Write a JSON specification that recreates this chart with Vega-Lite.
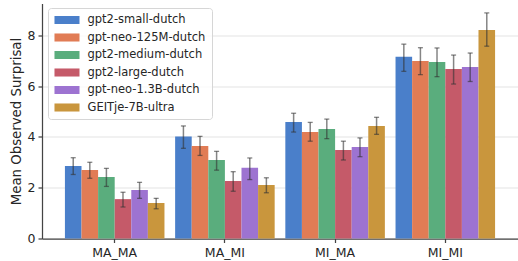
{
  "$schema": "https://vega.github.io/schema/vega-lite/v6.json",
  "width": 476,
  "height": 235,
  "autosize": {"type": "none"},
  "padding": {"left": 42, "top": 3.5, "right": 0, "bottom": 22.5},
  "config": {
    "font": "DejaVu Sans",
    "view": {"stroke": null},
    "axis": {"labelColor": "#262626", "titleColor": "#262626", "domainColor": "#444444", "tickColor": "#444444", "domainWidth": 1.25, "tickWidth": 1.25}
  },
  "data": {"values": [
    {"cond": "MA_MA", "model": "gpt2-small-dutch", "mean": 2.85, "lo": 2.52, "hi": 3.18},
    {"cond": "MA_MA", "model": "gpt-neo-125M-dutch", "mean": 2.70, "lo": 2.37, "hi": 3.00},
    {"cond": "MA_MA", "model": "gpt2-medium-dutch", "mean": 2.42, "lo": 2.05, "hi": 2.76},
    {"cond": "MA_MA", "model": "gpt2-large-dutch", "mean": 1.55, "lo": 1.24, "hi": 1.82},
    {"cond": "MA_MA", "model": "gpt-neo-1.3B-dutch", "mean": 1.91, "lo": 1.58, "hi": 2.21},
    {"cond": "MA_MA", "model": "GEITje-7B-ultra", "mean": 1.40, "lo": 1.17, "hi": 1.58},
    {"cond": "MA_MI", "model": "gpt2-small-dutch", "mean": 4.01, "lo": 3.55, "hi": 4.43},
    {"cond": "MA_MI", "model": "gpt-neo-125M-dutch", "mean": 3.64, "lo": 3.27, "hi": 4.02},
    {"cond": "MA_MI", "model": "gpt2-medium-dutch", "mean": 3.09, "lo": 2.69, "hi": 3.43},
    {"cond": "MA_MI", "model": "gpt2-large-dutch", "mean": 2.26, "lo": 1.86, "hi": 2.63},
    {"cond": "MA_MI", "model": "gpt-neo-1.3B-dutch", "mean": 2.78, "lo": 2.32, "hi": 3.17},
    {"cond": "MA_MI", "model": "GEITje-7B-ultra", "mean": 2.11, "lo": 1.80, "hi": 2.39},
    {"cond": "MI_MA", "model": "gpt2-small-dutch", "mean": 4.59, "lo": 4.19, "hi": 4.93},
    {"cond": "MI_MA", "model": "gpt-neo-125M-dutch", "mean": 4.19, "lo": 3.83, "hi": 4.57},
    {"cond": "MI_MA", "model": "gpt2-medium-dutch", "mean": 4.31, "lo": 3.93, "hi": 4.70},
    {"cond": "MI_MA", "model": "gpt2-large-dutch", "mean": 3.48, "lo": 3.09, "hi": 3.83},
    {"cond": "MI_MA", "model": "gpt-neo-1.3B-dutch", "mean": 3.60, "lo": 3.22, "hi": 3.96},
    {"cond": "MI_MA", "model": "GEITje-7B-ultra", "mean": 4.43, "lo": 4.10, "hi": 4.77},
    {"cond": "MI_MI", "model": "gpt2-small-dutch", "mean": 7.15, "lo": 6.58, "hi": 7.65},
    {"cond": "MI_MI", "model": "gpt-neo-125M-dutch", "mean": 6.99, "lo": 6.45, "hi": 7.51},
    {"cond": "MI_MI", "model": "gpt2-medium-dutch", "mean": 6.95, "lo": 6.37, "hi": 7.50},
    {"cond": "MI_MI", "model": "gpt2-large-dutch", "mean": 6.67, "lo": 6.08, "hi": 7.22},
    {"cond": "MI_MI", "model": "gpt-neo-1.3B-dutch", "mean": 6.75, "lo": 6.18, "hi": 7.30},
    {"cond": "MI_MI", "model": "GEITje-7B-ultra", "mean": 8.21, "lo": 7.57, "hi": 8.88}
  ]},
  "encoding": {
    "x": {"field": "cond", "type": "nominal", "sort": ["MA_MA", "MA_MI", "MI_MA", "MI_MI"],
      "scale": {"paddingInner": 0.0967, "paddingOuter": 0.208},
      "axis": {"title": null, "labelAngle": 0, "labelFontSize": 12.5, "tickSize": 4, "labelPadding": 4, "grid": false}},
    "xOffset": {"field": "model", "type": "nominal",
      "sort": ["gpt2-small-dutch", "gpt-neo-125M-dutch", "gpt2-medium-dutch", "gpt2-large-dutch", "gpt-neo-1.3B-dutch", "GEITje-7B-ultra"],
      "scale": {"paddingInner": 0, "paddingOuter": 0}}
  },
  "layer": [
    {
      "mark": {"type": "bar"},
      "encoding": {
        "y": {"field": "mean", "type": "quantitative", "scale": {"domain": [0, 9.25], "nice": false},
          "axis": {"title": "Mean Observed Surprisal", "titleFontSize": 13.3, "titleFontWeight": "normal", "titlePadding": 4,
            "labelFontSize": 12.5, "values": [0, 2, 4, 6, 8], "tickSize": 4, "labelPadding": 3,
            "grid": true, "gridColor": "#e3e3e3", "gridWidth": 1}},
        "color": {"field": "model", "type": "nominal",
          "sort": ["gpt2-small-dutch", "gpt-neo-125M-dutch", "gpt2-medium-dutch", "gpt2-large-dutch", "gpt-neo-1.3B-dutch", "GEITje-7B-ultra"],
          "scale": {"range": ["#4a7fca", "#e17c55", "#5aad7d", "#c55a69", "#9d73d1", "#c9963d"]},
          "legend": {"title": null, "orient": "none", "legendX": 6, "legendY": 4.5, "padding": 6,
            "symbolType": "M-0.92,-0.67H3.25V0.67H-0.92Z", "symbolSize": 144, "symbolStrokeWidth": 0, "symbolOpacity": 1,
            "labelFontSize": 11.5, "labelOffset": 21.5, "labelColor": "#262626", "rowPadding": 5.5,
            "fillColor": "rgba(255,255,255,0.8)", "strokeColor": "#d6d6d6", "cornerRadius": 3}}
      }
    },
    {
      "mark": {"type": "rule", "color": "#333333", "opacity": 0.6, "strokeWidth": 1.5},
      "encoding": {"y": {"field": "lo", "type": "quantitative"}, "y2": {"field": "hi"}}
    },
    {
      "mark": {"type": "tick", "color": "#333333", "opacity": 0.6, "thickness": 1.3, "size": 5, "orient": "horizontal"},
      "encoding": {"y": {"field": "lo", "type": "quantitative"}}
    },
    {
      "mark": {"type": "tick", "color": "#333333", "opacity": 0.6, "thickness": 1.3, "size": 5, "orient": "horizontal"},
      "encoding": {"y": {"field": "hi", "type": "quantitative"}}
    }
  ]
}
